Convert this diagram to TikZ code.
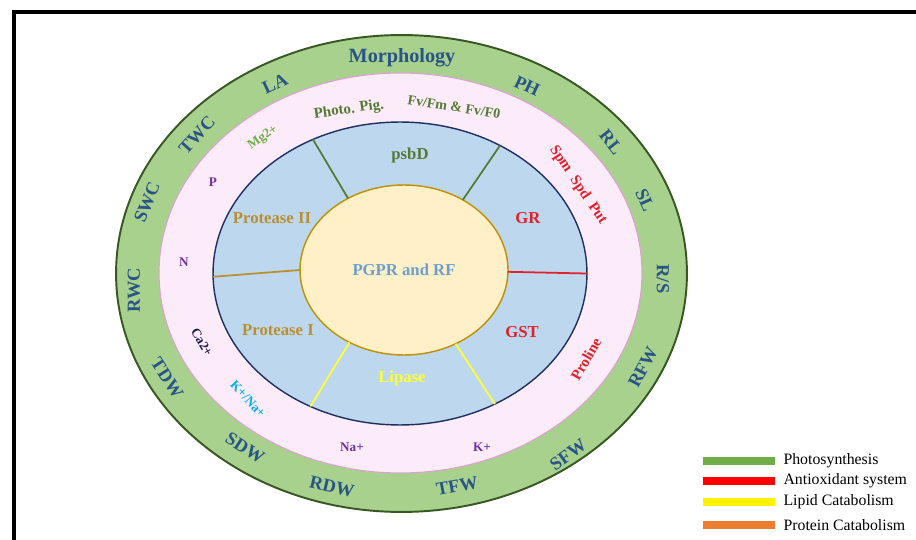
\documentclass[tikz,border=0pt]{standalone}
\usepackage{fontspec}
\setmainfont{Liberation Serif}
\usepackage{tikz}
\usetikzlibrary{positioning,shapes,calc}
\definecolor{bandgreen}{RGB}{169,209,142}
\definecolor{banddraw}{RGB}{56,87,35}
\definecolor{bandtext}{RGB}{41,84,134}
\definecolor{ringpink}{RGB}{252,235,249}
\definecolor{ringdraw}{RGB}{222,160,210}
\definecolor{sectorblue}{RGB}{189,215,238}
\definecolor{bluedraw}{RGB}{31,47,96}
\definecolor{corefill}{RGB}{255,240,200}
\definecolor{coredraw}{RGB}{191,144,0}
\definecolor{photogreen}{RGB}{84,122,52}
\definecolor{mggreen}{RGB}{112,173,71}
\definecolor{ionpurple}{RGB}{112,48,160}
\definecolor{canavy}{RGB}{26,26,78}
\definecolor{kcyan}{RGB}{0,176,240}
\definecolor{antired}{RGB}{224,32,42}
\definecolor{protgold}{RGB}{184,144,47}
\definecolor{pgprblue}{RGB}{106,159,208}
\definecolor{lipyellow}{RGB}{255,255,51}
\definecolor{leggreen}{RGB}{112,173,71}
\definecolor{legorange}{RGB}{237,125,49}

\begin{document}
\begin{tikzpicture}[x=0.02cm,y=-0.02cm,semithick]
\tikzstyle{ring}=[ellipse,inner sep=0pt,outer sep=0pt]
\tikzstyle{band}=[font=\bfseries\fontsize{10.5}{12}\selectfont,text=bandtext]
\tikzstyle{ion}=[font=\bfseries\fontsize{7.5}{9}\selectfont]
\tikzstyle{sector}=[font=\bfseries\fontsize{9.5}{11}\selectfont]
\tikzstyle{legtxt}=[font=\fontsize{9}{10}\selectfont,anchor=west,inner sep=0pt]
\useasboundingbox (0,0) rectangle (916,540);
\fill[white] (0,0) rectangle (916,540);
\draw[line width=1.8pt] (14,12) rectangle (940,570);

\node[ring,draw=banddraw,line width=1.1pt,fill=bandgreen,minimum width=11.42cm,minimum height=9.54cm] (morpho) at (401.5,273.5) {};
\node[ring,draw=ringdraw,line width=0.6pt,fill=ringpink,minimum width=9.66cm,minimum height=8cm] (ions) at (400.5,273) {};
\node[ring,draw=bluedraw,line width=0.8pt,fill=sectorblue,minimum width=7.48cm,minimum height=6.06cm] (enzymes) at (400,273.5) {};
\node[ring,draw=coredraw,line width=0.8pt,fill=corefill,minimum width=4.16cm,minimum height=3.4cm,sector,text=pgprblue] (core) at (404,270) {PGPR and RF};

\foreach \a/\b/\c in {128/123/photogreen,50/52/photogreen,359/360/antired,180/181/protgold,233/236/lipyellow,305/306/lipyellow}
  \draw[line width=1pt,\c] (core.\a) -- (enzymes.\b);

\node[band,font=\bfseries\fontsize{11.5}{13}\selectfont] (morph) at (402,58) {Morphology};
\node[band,rotate=25] (la) at (275,84) {LA};
\node[band,rotate=-25] (ph) at (527,86) {PH};
\node[band,rotate=-52] (rl) at (611,142) {RL};
\node[band,rotate=-66] (sl) at (645,200) {SL};
\node[band,rotate=-90] (rs) at (663,279) {R/S};
\node[band,rotate=62] (rfw) at (643,367) {RFW};
\node[band,rotate=36] (sfw) at (568,455) {SFW};
\node[band,rotate=10] (tfw) at (457,486) {TFW};
\node[band,rotate=-13] (rdw) at (332,487) {RDW};
\node[band,rotate=-32] (sdw) at (245,448) {SDW};
\node[band,rotate=-57] (tdw) at (167,378) {TDW};
\node[band,rotate=90] (rwc) at (134,290) {RWC};
\node[band,rotate=68] (swc) at (147,202) {SWC};
\node[band,rotate=48] (twc) at (197,135) {TWC};

\node[ion,font=\bfseries\fontsize{8.5}{10}\selectfont,text=photogreen,rotate=8] (pig) at (349,110) {Photo. Pig.};
\node[ion,font=\bfseries\fontsize{8}{10}\selectfont,text=photogreen,rotate=-9] (fvfm) at (454,107) {Fv/Fm \& Fv/F0};
\node[ion,text=mggreen,rotate=35] (mg) at (263,138) {Mg2+};
\node[ion,text=ionpurple] (p) at (213,182) {P};
\node[ion,text=ionpurple] (n) at (184,262) {N};
\node[ion,text=canavy,rotate=-60] (ca) at (202,342) {Ca2+};
\node[ion,text=kcyan,rotate=-47] (kna) at (248,399) {K+/Na+};
\node[ion,text=ionpurple] (na) at (352,447) {Na+};
\node[ion,text=ionpurple] (kp) at (482,447) {K+};
\node[ion,font=\bfseries\fontsize{8.5}{10}\selectfont,text=antired,rotate=60] (proline) at (586,359) {Proline};
\node[ion,font=\bfseries\fontsize{8.5}{10}\selectfont,text=antired,rotate=-56] (spm) at (578,185) {Spm\ \ Spd\ \ Put};

\node[sector,text=photogreen] (psbd) at (410,155) {psbD};
\node[sector,text=antired] (gr) at (528,218) {GR};
\node[sector,text=antired] (gst) at (522,332) {GST};
\node[sector,text=lipyellow] (lipase) at (402,378) {Lipase};
\node[sector,text=protgold] (prot1) at (278,330) {Protease I};
\node[sector,text=protgold] (prot2) at (272,218) {Protease II};

\foreach \y/\c/\t [count=\i] in {461/leggreen/Photosynthesis,481/red/Antioxidant system,502/yellow/Lipid Catabolism,525/legorange/Protein Catabolism}{
  \fill[\c] (703,\y-4) rectangle (775,\y+4);
  \node[legtxt] (leg\i) at (783,\y) {\t};
}
\end{tikzpicture}
\end{document}
